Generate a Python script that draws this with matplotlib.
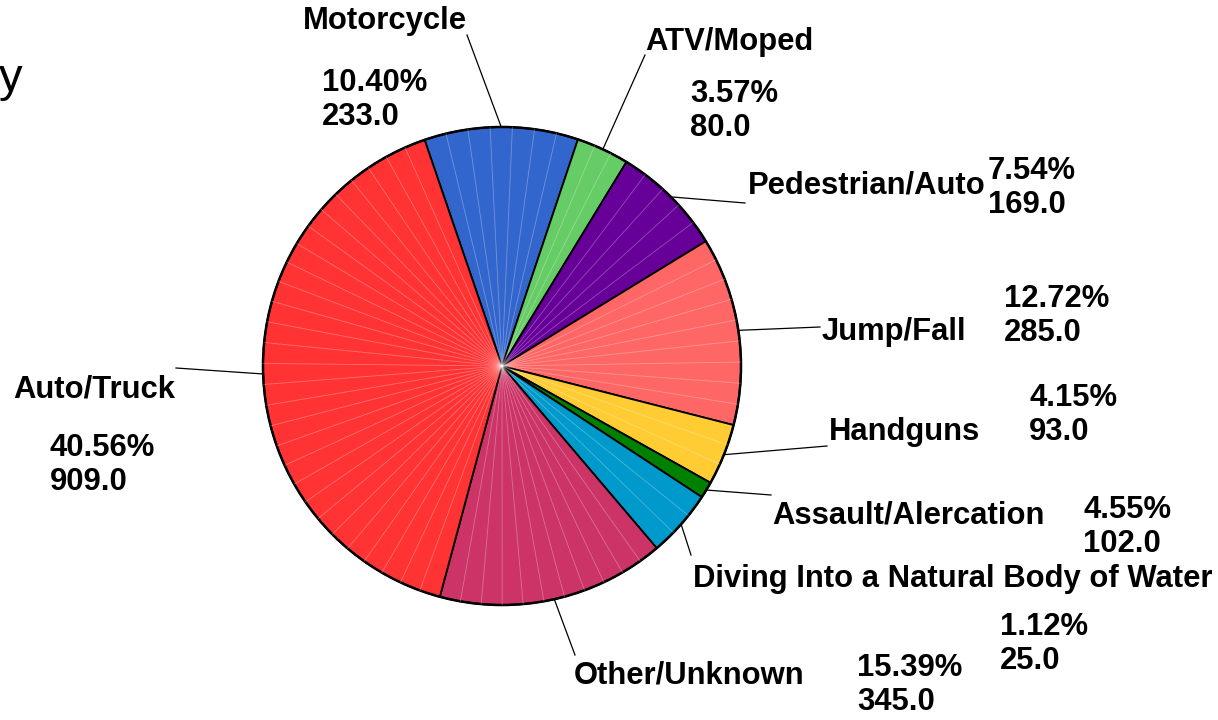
import matplotlib

matplotlib.use("Agg")
import matplotlib.pyplot as plt
import numpy as np

# Slices in clockwise order starting at the top
categories = ["Motorcycle", "ATV/Moped", "Pedestrian/Auto", "Jump/Fall", "Handguns",
              "Assault/Alercation", "Diving Into a Natural Body of Water",
              "Other/Unknown", "Auto/Truck"]
values = [233, 80, 169, 285, 93, 25, 102, 345, 909]
colors = ["#3366CC", "#66CC66", "#660099", "#FF6666", "#FFCC33",
          "#008000", "#0099CC", "#CC3366", "#FF3333"]

W_PX, H_PX = 1218, 720
CX, CY, R_PX = 502, 366, 239      # pie centre / radius in pixels
START = 108.9                      # angle of first slice edge

# label layout in pixels: name (left, centre-y), leader end, value block (left, centre-y)
name_pos = [(303, 21), (645, 42), (748, 186), (822, 332), (829, 432),
            (772, 516), (693, 579), (574, 676), (13, 390)]
leader_end = [(467, 35), (645, 55), (745, 203), (820, 327), (827, 446),
              (771, 495), (691, 555), (575, 655), (176, 368)]
value_pos = [(322, 100), (690, 111), (988, 188), (1004, 316), (1029, 415),
             (1000, 644), (1083, 527), (857, 685), (50, 465)]


def px(x, y):
    return (x - CX) / R_PX, (CY - y) / R_PX


plt.rcParams["font.family"] = ["Liberation Sans", "DejaVu Sans"]
fig = plt.figure(figsize=(W_PX / 100, H_PX / 100), dpi=100)
ax = fig.add_axes([0, 0, 1, 1])

wedges, _ = ax.pie(values, colors=colors, startangle=START, counterclock=False,
                   radius=1.0, wedgeprops=dict(edgecolor="black", linewidth=1.3))
ax.set_aspect("auto")
ax.set_xlim(-CX / R_PX, (W_PX - CX) / R_PX)
ax.set_ylim(-(H_PX - CY) / R_PX, CY / R_PX)
ax.axis("off")

# faint facet lines inside each slice, like the original polygon rendering
total = sum(values)
edges = START - np.concatenate([[0], np.cumsum(values)]) / total * 360
for a0, a1 in zip(edges[:-1], edges[1:]):
    n = max(int(round((a0 - a1) / 5.0)), 1)
    for a in np.linspace(a0, a1, n + 1)[1:-1]:
        t = np.deg2rad(a)
        ax.plot([0, np.cos(t)], [0, np.sin(t)], color="white", lw=0.6, alpha=0.3)
ax.add_patch(plt.Circle((0, 0), 1.0, fill=False, ec="black", lw=1.8))

fs = 22.3
for i, name in enumerate(categories):
    mid = np.deg2rad((edges[i] + edges[i + 1]) / 2)
    ex, ey = px(*leader_end[i])
    ax.plot([np.cos(mid), ex], [np.sin(mid), ey], color="black", lw=0.9)
    ax.text(*px(*name_pos[i]), name, fontsize=fs, fontweight="bold",
            ha="left", va="center")
    ax.text(*px(*value_pos[i]), f"{values[i] / total * 100:.2f}%\n{values[i]:.1f}",
            fontsize=fs, fontweight="bold", ha="left", va="center", linespacing=1.15)

# cut-off title fragment at the top left
ax.text(*px(-1, 91), "y", fontsize=34, ha="left", va="baseline")

fig.savefig("out.png", dpi=100)
